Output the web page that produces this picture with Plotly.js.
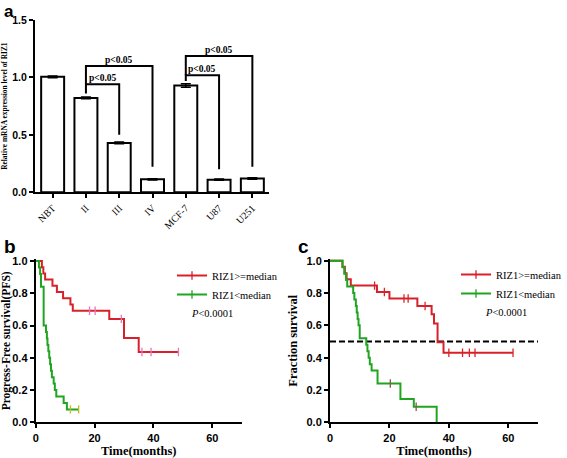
<!DOCTYPE html>
<html>
<head>
<meta charset="utf-8">
<script src="https://cdn.plot.ly/plotly-3.0.1.min.js"></script>
<style>html,body{margin:0;padding:0;background:#fff;overflow:hidden;}#chart{width:567px;height:458px;}</style>
</head>
<body>
<div id="chart"></div>
<script>
// ---------- Panel a data ----------
const catsA = ['NBT', 'II', 'III', 'IV', 'MCF-7', 'U87', 'U251'];
const valsA = [1.005, 0.822, 0.43, 0.113, 0.93, 0.11, 0.12];
const errA = [0.008, 0.008, 0.008, 0.006, 0.015, 0.006, 0.006];
// significance brackets
const bracketFrom = [1, 1, 4, 4];
const bracketTo = [2, 3, 5, 6];
const bracketTop = [0.94, 1.10, 1.018, 1.187];
const bracketLeftEnd = [0.86, 0.94, 0.97, 1.018];
const bracketRightEnd = [0.50, 0.223, 0.20, 0.223];
const bracketLabel = 'p&lt;0.05';

// ---------- Panel b data (PFS) ----------
const bHighTimes = [2.1, 2.6, 3.2, 5.7, 7.2, 9.3, 11.8, 12.6, 25.0, 30.0, 35.0];
const bHighSurv = [0.962, 0.923, 0.885, 0.846, 0.808, 0.769, 0.731, 0.692, 0.641, 0.523, 0.436];
const bHighCens = [18.3, 20.2, 29.1, 36.1, 39.2, 48.5];
const bLowTimes = [1.1, 1.5, 1.8, 2.7, 3.5, 3.8, 4.0, 4.3, 4.6, 4.9, 5.2, 5.5, 6.1, 6.5, 7.0, 9.5, 10.6];
const bLowSurv = [0.96, 0.92, 0.84, 0.60, 0.56, 0.52, 0.48, 0.44, 0.40, 0.36, 0.32, 0.28, 0.24, 0.20, 0.16, 0.12, 0.08];
const bLowCens = [11.8, 14.6];

// ---------- Panel c data (overall survival) ----------
const cHighTimes = [4.2, 5.0, 5.6, 7.0, 15.8, 20.0, 29.4, 34.2, 35.0, 36.2, 38.2];
const cHighSurv = [0.962, 0.923, 0.885, 0.846, 0.806, 0.766, 0.72, 0.668, 0.612, 0.495, 0.43];
const cHighCens = [15.0, 18.3, 24.9, 26.3, 32.0, 40.0, 44.6, 46.9, 48.8, 61.6];
const cLowTimes = [4.2, 4.8, 5.4, 5.8, 7.8, 8.2, 8.7, 9.0, 9.3, 9.6, 10.0, 12.2, 12.6, 13.0, 13.4, 14.0, 16.0, 23.7, 28.2, 35.9];
const cLowSurv = [0.96, 0.92, 0.88, 0.84, 0.80, 0.76, 0.72, 0.68, 0.64, 0.60, 0.52, 0.48, 0.44, 0.40, 0.36, 0.32, 0.24, 0.144, 0.096, 0.0];
const cLowCens = [20.3, 29.0];
const medianLevel = 0.5;

const seriesNames = ['RIZ1&gt;=median', 'RIZ1&lt;median'];
const RED = '#d8202a';
const GREEN = '#1fa51f';

const SANS = 'Liberation Sans, Arial, sans-serif';
const SERIF = 'Liberation Serif, Times New Roman, serif';

function survAt(times, surv, t) {
  let s = 1;
  for (let i = 0; i < times.length; i++) { if (times[i] <= t) s = surv[i]; }
  return s;
}
function kmTraces(times, surv, cens, color, xa, ya) {
  const lastT = Math.max(times[times.length - 1], cens.length ? Math.max(...cens) : 0);
  const x = [0].concat(times, [lastT]);
  const y = [1].concat(surv, [surv[surv.length - 1]]);
  return [
    {x: x, y: y, xaxis: xa, yaxis: ya, mode: 'lines', line: {shape: 'hv', color: color, width: 2},
     showlegend: false, hoverinfo: 'skip'},
    {x: cens, y: cens.map(t => survAt(times, surv, t)), xaxis: xa, yaxis: ya, mode: 'markers',
     marker: {symbol: 'line-ns-open', size: 6, line: {color: color, width: 1.3}},
     showlegend: false, hoverinfo: 'skip'}
  ];
}
function legendTrace(name, color, xa, ya, legend) {
  return {x: [null], y: [null], xaxis: xa, yaxis: ya, name: name, legend: legend,
    mode: 'lines+markers', line: {color: color, width: 2},
    marker: {symbol: 'line-ns-open', size: 6, line: {color: color, width: 1.3}}};
}

const traces = [];
traces.push({
  type: 'bar', x: catsA, y: valsA, xaxis: 'x', yaxis: 'y', width: 0.69,
  marker: {color: '#ffffff', line: {color: '#000', width: 2}},
  error_y: {type: 'data', array: errA, visible: true, color: '#000', thickness: 1.5, width: 5},
  showlegend: false, hoverinfo: 'skip'
});
for (let i = 0; i < bracketFrom.length; i++) {
  traces.push({
    x: [catsA[bracketFrom[i]], catsA[bracketFrom[i]], catsA[bracketTo[i]], catsA[bracketTo[i]]],
    y: [bracketLeftEnd[i], bracketTop[i], bracketTop[i], bracketRightEnd[i]],
    xaxis: 'x', yaxis: 'y', mode: 'lines', line: {color: '#000', width: 2},
    showlegend: false, hoverinfo: 'skip'
  });
}
traces.push(...kmTraces(bHighTimes, bHighSurv, bHighCens, RED, 'x2', 'y2'));
traces.push(...kmTraces(bLowTimes, bLowSurv, bLowCens, GREEN, 'x2', 'y2'));
traces.push(legendTrace(seriesNames[0], RED, 'x2', 'y2', 'legend'));
traces.push(legendTrace(seriesNames[1], GREEN, 'x2', 'y2', 'legend'));
traces.push({x: [0, 70], y: [medianLevel, medianLevel], xaxis: 'x3', yaxis: 'y3', mode: 'lines',
  line: {color: '#000', width: 2, dash: '6px,3px'}, showlegend: false, hoverinfo: 'skip'});
traces.push(...kmTraces(cHighTimes, cHighSurv, cHighCens, RED, 'x3', 'y3'));
traces.push(...kmTraces(cLowTimes, cLowSurv, cLowCens, GREEN, 'x3', 'y3'));
traces.push(legendTrace(seriesNames[0], RED, 'x3', 'y3', 'legend2'));
traces.push(legendTrace(seriesNames[1], GREEN, 'x3', 'y3', 'legend2'));

const W = 567, H = 458;
const px = v => v / W;
const py = v => 1 - v / H;

const axisCommon = {
  showline: true, linecolor: '#000', linewidth: 2, ticks: 'outside', ticklen: 4, tickwidth: 2,
  tickcolor: '#000', showgrid: false, zeroline: false, fixedrange: true
};
const tickFontSans = {family: SANS, size: 11, color: '#000', weight: 'bold'};

const annotations = [];
for (let i = 0; i < bracketFrom.length; i++) {
  annotations.push({
    xref: 'x', yref: 'y', x: (bracketFrom[i] + bracketTo[i]) / 2, y: bracketTop[i],
    text: '<b>' + bracketLabel + '</b>', showarrow: false, yanchor: 'bottom', yshift: -1,
    font: {family: SERIF, size: 9.5, color: '#000'}
  });
}
annotations.push(
  {xref: 'paper', yref: 'paper', x: px(2), y: 1, xanchor: 'left', yanchor: 'top', text: '<b>a</b>',
   showarrow: false, font: {family: SANS, size: 17, color: '#000'}},
  {xref: 'paper', yref: 'paper', x: px(2), y: py(234), xanchor: 'left', yanchor: 'top', text: '<b>b</b>',
   showarrow: false, font: {family: SANS, size: 19, color: '#000'}},
  {xref: 'paper', yref: 'paper', x: px(296), y: py(234), xanchor: 'left', yanchor: 'top', text: '<b>c</b>',
   showarrow: false, font: {family: SANS, size: 19, color: '#000'}},
  {xref: 'paper', yref: 'paper', x: px(189), y: py(313), xanchor: 'left', yanchor: 'middle',
   text: '<i>P</i>&lt;0.0001', showarrow: false, font: {family: SERIF, size: 10.5, color: '#000'}},
  {xref: 'paper', yref: 'paper', x: px(483), y: py(312), xanchor: 'left', yanchor: 'middle',
   text: '<i>P</i>&lt;0.0001', showarrow: false, font: {family: SERIF, size: 10.5, color: '#000'}}
);

const legendCommon = {
  bgcolor: 'rgba(0,0,0,0)', borderwidth: 0, itemwidth: 30, yanchor: 'top',
  font: {family: SERIF, size: 10.5, color: '#000'}, tracegroupgap: 0, itemclick: false, itemdoubleclick: false
};

const layout = {
  width: W, height: H, margin: {l: 0, r: 0, t: 0, b: 0, autoexpand: false},
  paper_bgcolor: '#fff', plot_bgcolor: '#fff',
  showlegend: true,
  legend: Object.assign({}, legendCommon, {x: px(172), xanchor: 'left', y: py(261)}),
  legend2: Object.assign({}, legendCommon, {x: 1, xanchor: 'right', y: py(260)}),
  bargap: 0.3,
  xaxis: Object.assign({}, axisCommon, {
    domain: [px(35), px(269)], anchor: 'y', type: 'category', range: [-0.53, 6.5],
    tickangle: -45, tickfont: {family: 'Liberation Serif', size: 10, color: '#000'}
  }),
  yaxis: Object.assign({}, axisCommon, {
    domain: [py(192.3), py(20)], anchor: 'x', range: [0, 1.5], tickvals: [0, 0.5, 1.0, 1.5],
    tickformat: '.1f', tickfont: {family: SANS, size: 10.5, color: '#000', weight: 'bold'},
    title: {text: 'Relative mRNA expression level of RIZ1', standoff: 4,
            font: {family: SERIF, size: 7.4, color: '#000', weight: 'bold'}}
  }),
  xaxis2: Object.assign({}, axisCommon, {
    domain: [px(35.7), px(241.7)], anchor: 'y2', range: [0, 70], tickvals: [0, 20, 40, 60],
    tickfont: tickFontSans,
    title: {text: 'Time(months)', standoff: 6, font: {family: SERIF, size: 12.5, color: '#000', weight: 'bold'}}
  }),
  yaxis2: Object.assign({}, axisCommon, {
    domain: [py(422.3), py(259.4)], anchor: 'x2', range: [0, 1.01], tickvals: [0, 0.2, 0.4, 0.6, 0.8, 1.0],
    tickformat: '.1f', tickfont: tickFontSans,
    title: {text: 'Progress-Free survival(PFS)', standoff: 4,
            font: {family: SERIF, size: 11.5, color: '#000', weight: 'bold'}}
  }),
  xaxis3: Object.assign({}, axisCommon, {
    domain: [px(330), px(538)], anchor: 'y3', range: [0, 70], tickvals: [0, 20, 40, 60],
    tickfont: tickFontSans,
    title: {text: 'Time(months)', standoff: 6, font: {family: SERIF, size: 12.5, color: '#000', weight: 'bold'}}
  }),
  yaxis3: Object.assign({}, axisCommon, {
    domain: [py(422.3), py(259.1)], anchor: 'x3', range: [0, 1.01], tickvals: [0, 0.2, 0.4, 0.6, 0.8, 1.0],
    tickformat: '.1f', tickfont: tickFontSans,
    title: {text: 'Fraction survival', standoff: 6,
            font: {family: SERIF, size: 12.5, color: '#000', weight: 'bold'}}
  }),
  annotations: annotations
};

Plotly.newPlot('chart', traces, layout, {displayModeBar: false});
</script>
</body>
</html>
